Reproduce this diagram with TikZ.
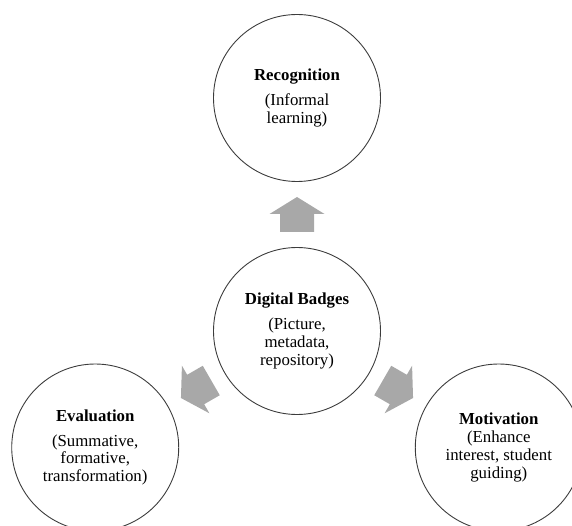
\documentclass[tikz,border=0pt]{standalone}
\usepackage{fontspec}
\setmainfont{Liberation Serif}
\usetikzlibrary{calc}
\definecolor{circlegray}{HTML}{3C3C3C}
\definecolor{arrowgray}{HTML}{A8A8A8}
\begin{document}
\begin{tikzpicture}[x=1pt,y=1pt,
  bubble/.style={circle, draw=circlegray, line width=0.9pt, minimum size=167pt,
    inner sep=0pt, align=center, font=\fontsize{16.8}{17.8}\selectfont},
  blockarrow/.pic={\fill[arrowgray] (-17.5,-17) -- (0.5,-17) -- (0.5,-27.5) -- (17.5,0)
    -- (0.5,27.5) -- (0.5,17) -- (-17.5,17) -- cycle;}]
\useasboundingbox (0,0) rectangle (572,-526);
\clip (0,0) rectangle (572,-526);
\node[bubble] (c) at (297,-331) {\textbf{Digital Badges}\\[7pt](Picture,\\metadata,\\repository)};
\node[bubble] (t) at ($(c)+(90:233)$) {\textbf{Recognition}\\[7pt](Informal\\learning)};
\node[bubble] (e) at ($(c)+(210:233)$) {\textbf{Evaluation}\\[7pt](Summative,\\formative,\\transformation)};
\node[bubble] (m) at ($(c)+(330:233)$) {\textbf{Motivation}\\(Enhance\\interest, student\\guiding)};
\pic[rotate=90] at ($(c)!0.5!(t)$) {blockarrow};
\pic[rotate=210] at ($(c)!0.5!(e)$) {blockarrow};
\pic[rotate=330] at ($(c)!0.5!(m)$) {blockarrow};
\end{tikzpicture}
\end{document}
